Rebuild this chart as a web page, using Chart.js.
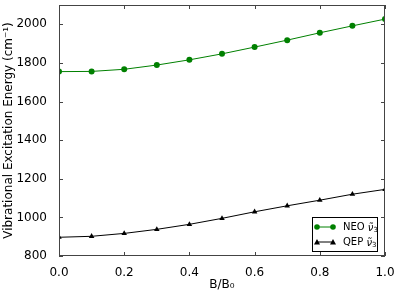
<!DOCTYPE html>
<html>
  <head>
    <meta charset="utf-8" />
    <title>Vibrational Excitation Energy</title>
    <style>
      html, body { margin: 0; padding: 0; background: #fff; }
      #wrap { width: 399px; height: 294px; position: relative; }
    </style>
  </head>
  <body>
    <div id="wrap"><canvas id="chart"></canvas></div>

    <script src="https://cdn.jsdelivr.net/npm/chart.js"></script>
    <script>
      var bField = [0.0, 0.1, 0.2, 0.3, 0.4, 0.5, 0.6, 0.7, 0.8, 0.9, 1.0];
      var neoValues = [1755, 1756, 1767, 1789, 1816, 1847, 1882, 1918, 1956, 1992, 2027];
      var qepValues = [897, 902, 917, 938, 964, 995, 1029, 1060, 1089, 1120, 1145];
      var seriesNames = ["NEO", "QEP"];
      var modeSymbol = "\u03BD\u0303";
      var modeIndex = "3";

      var FONT = "'DejaVu Sans', sans-serif";

      function toPoints(values) {
        return values.map(function (v, i) { return { x: bField[i], y: v }; });
      }

      // matplotlib style frame: inward ticks on every side, plus the legend box
      var framePlugin = {
        id: "frame",
        afterDraw: function (chart) {
          var ctx = chart.ctx;
          var a = chart.chartArea;
          var xs = chart.scales.x, ys = chart.scales.y;
          ctx.save();
          ctx.strokeStyle = "#444";
          ctx.lineWidth = 1;
          ctx.strokeRect(a.left + 0.5, a.top + 0.5, a.right - a.left - 1, a.bottom - a.top - 1);
          ctx.beginPath();
          xs.ticks.forEach(function (t) {
            var px = Math.round(xs.getPixelForValue(t.value)) + 0.5;
            ctx.moveTo(px, a.bottom); ctx.lineTo(px, a.bottom - 4);
            ctx.moveTo(px, a.top); ctx.lineTo(px, a.top + 4);
          });
          ys.ticks.forEach(function (t) {
            var py = Math.round(ys.getPixelForValue(t.value)) + 0.5;
            ctx.moveTo(a.left, py); ctx.lineTo(a.left + 4, py);
            ctx.moveTo(a.right, py); ctx.lineTo(a.right - 4, py);
          });
          ctx.stroke();

          // legend in lower right
          var lx = a.right - 73, ly = a.bottom - 39, lw = 65, lh = 34;
          ctx.fillStyle = "#fff";
          ctx.fillRect(lx, ly, lw, lh);
          ctx.strokeStyle = "#000";
          ctx.strokeRect(lx + 0.5, ly + 0.5, lw, lh);
          var sets = chart.data.datasets;
          for (var i = 0; i < sets.length; i++) {
            var yy = ly + 10 + i * 15;
            var c = sets[i].borderColor;
            ctx.strokeStyle = c;
            ctx.fillStyle = c;
            ctx.beginPath();
            ctx.moveTo(lx + 5, yy); ctx.lineTo(lx + 21, yy);
            ctx.stroke();
            [lx + 5, lx + 21].forEach(function (mx) {
              ctx.beginPath();
              if (sets[i].pointStyle === "triangle") {
                ctx.moveTo(mx, yy - 3); ctx.lineTo(mx + 3, yy + 2.5); ctx.lineTo(mx - 3, yy + 2.5);
                ctx.closePath();
              } else {
                ctx.arc(mx, yy, 2.8, 0, Math.PI * 2);
              }
              ctx.fill();
            });
            ctx.fillStyle = "#000";
            ctx.textBaseline = "middle";
            ctx.font = "10px " + FONT;
            var tx = lx + 31;
            var name = sets[i].label + " ";
            ctx.fillText(name, tx, yy);
            tx += ctx.measureText(name).width;
            ctx.font = "italic 10px " + FONT;
            ctx.fillText(modeSymbol, tx, yy + 1);
            tx += ctx.measureText("\u03BD").width;
            ctx.font = "7px " + FONT;
            ctx.fillText(modeIndex, tx, yy + 3);
          }
          ctx.restore();
        }
      };

      new Chart(document.getElementById("chart"), {
        type: "line",
        data: {
          datasets: [
            {
              label: seriesNames[0],
              data: toPoints(neoValues),
              borderColor: "#008000",
              backgroundColor: "#008000",
              borderWidth: 1,
              pointStyle: "circle",
              pointRadius: 3,
              pointBorderWidth: 0,
              fill: false,
              tension: 0
            },
            {
              label: seriesNames[1],
              data: toPoints(qepValues),
              borderColor: "#000000",
              backgroundColor: "#000000",
              borderWidth: 1,
              pointStyle: "triangle",
              pointRadius: 3.2,
              pointBorderWidth: 0,
              fill: false,
              tension: 0
            }
          ]
        },
        options: {
          responsive: true,
          maintainAspectRatio: false,
          animation: false,
          layout: { padding: { left: 0, right: 14, top: 5, bottom: 0 } },
          plugins: { legend: { display: false }, tooltip: { enabled: false } },
          scales: {
            x: {
              type: "linear",
              min: 0,
              max: 1,
              grid: { display: false },
              border: { display: false },
              ticks: {
                stepSize: 0.2,
                padding: 2,
                color: "#000",
                font: { family: FONT, size: 12 },
                maxRotation: 0,
                callback: function (v) { return v.toFixed(1); }
              },
              title: {
                display: true,
                text: "B/B\u2080",
                color: "#000",
                font: { family: FONT, size: 12 },
                padding: { top: 0, bottom: 2 }
              },
              afterFit: function (s) {
                s.height = 38;
                s.paddingLeft = 0;
                s.paddingRight = 0;
              }
            },
            y: {
              min: 800,
              max: 2100,
              grid: { display: false },
              border: { display: false },
              afterBuildTicks: function (s) {
                s.ticks = s.ticks.filter(function (t) { return t.value % 200 === 0; });
              },
              ticks: {
                stepSize: 200,
                padding: 4,
                color: "#000",
                font: { family: FONT, size: 12 },
                callback: function (v) { return String(v); }
              },
              title: {
                display: true,
                text: "Vibrational Excitation Energy (cm\u207B\u00B9)",
                color: "#000",
                font: { family: FONT, size: 12 },
                padding: { top: 2, bottom: 4 }
              },
              afterFit: function (s) {
                s.width = 59;
                s.paddingTop = 0;
                s.paddingBottom = 0;
              }
            }
          }
        },
        plugins: [framePlugin]
      });
    </script>
  </body>
</html>
